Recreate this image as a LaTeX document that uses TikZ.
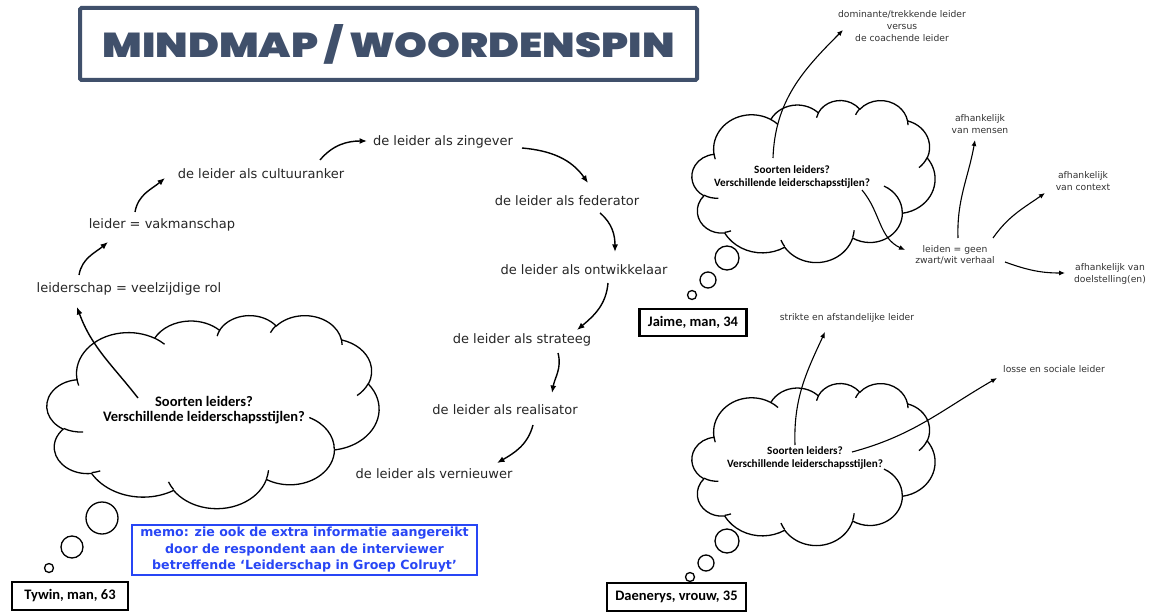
\documentclass[tikz,border=0pt]{standalone}
\usepackage{fontspec}
\usetikzlibrary{arrows.meta}
\setmainfont{DejaVu Sans}
\newfontfamily\calibrifont{Carlito}
\IfFontExistsTF{Poppins Black}{\newfontfamily\titlefont{Poppins Black}}{%
  \IfFontExistsTF{Poppins ExtraBold}{\newfontfamily\titlefont{Poppins ExtraBold}}{%
    \newfontfamily\titlefont{Poppins}[UprightFont=* Bold]}}
\definecolor{slate}{RGB}{64,80,107}
\definecolor{memoblue}{RGB}{40,70,245}

% Elliptic arc given by its radii and the visual start angle / sweep (degrees),
% converted to the parametric angles TikZ expects.
\newcommand\carc[4]{arc[x radius=#1, y radius=#2,
  start angle={atan2(#1*sin(#3),#2*cos(#3))},
  delta angle={mod(atan2(#1*sin(#3+#4),#2*cos(#3+#4))-atan2(#1*sin(#3),#2*cos(#3))+720,360)}]}

% Cloud outline in a 432 x 432 box, y pointing down
\newcommand\cloudoutline{(39.00,143.70)
  \carc{67.53}{91.90}{-190.4875}{123.7805}
  \carc{53.33}{72.67}{-144.1024}{89.9452}
  \carc{43.65}{59.45}{-145.8079}{99.7230}
  \carc{48.57}{65.95}{-130.9861}{117.2417}
  \carc{53.33}{72.73}{-78.7089}{109.0269}
  \carc{67.75}{92.20}{-46.2673}{130.2690}
  \carc{57.85}{78.67}{0.6250}{114.0333}
  \carc{67.52}{92.15}{22.4516}{115.1726}
  \carc{77.20}{105.43}{66.2426}{75.7110}
  \carc{43.60}{59.18}{-274.9421}{146.7356}
  \carc{43.45}{59.45}{-246.8285}{152.5189}
  -- cycle}
% the short inner strokes of the cloud
\newcommand\cloudinner{%
  (46.93,261.77) \carc{43.45}{59.45}{86.742}{26.430}
  (69.28,348.99) \carc{43.60}{59.18}{73.610}{11.447}
  (164.78,390.90) \carc{67.52}{92.15}{137.624}{14.081}
  (288.27,347.51) \carc{67.52}{92.15}{6.453}{15.998}
  (341.29,229.54) \carc{57.85}{78.67}{-70.292}{70.917}
  (417.98,153.54) \carc{53.33}{72.73}{30.318}{27.752}
  (383.24,54.26) \carc{48.57}{65.95}{-13.744}{14.859}
  (290.78,39.52) \carc{48.57}{65.95}{-149.181}{18.195}
  (221.41,47.20) \carc{43.65}{59.45}{-163.494}{17.686}
  (140.00,51.92) \carc{67.53}{91.90}{-66.707}{12.319}
  (41.27,157.89) \carc{67.53}{91.90}{157.654}{11.858}}
% \thoughtcloud{left}{top}{width}{height}
\newcommand\thoughtcloud[4]{%
  \begin{scope}[shift={(#1,-#2)}, xscale=#3/432, yscale=-#4/432]
    \draw[cloudline, fill=white] \cloudoutline;
    \draw[cloudline] \cloudinner;
  \end{scope}}

\begin{document}
\begin{tikzpicture}[x=1pt, y=1pt,
  cloudline/.style={line width=1.3pt, line join=round},
  arr/.style={line width=1.4pt, -{Latex[length=7.5pt,width=6pt]}},
  sarr/.style={line width=1.1pt, -{Latex[length=6pt,width=5pt]}},
  chain/.style={font=\fontsize{13}{15}\selectfont, text=black!85, inner sep=1pt},
  small/.style={font=\fontsize{9.2}{11.8}\selectfont, align=center, text=black!80, inner sep=1pt},
  bigq/.style={font=\calibrifont\bfseries\fontsize{14.5}{15.5}\selectfont, align=center, inner sep=0pt},
  smallq/.style={font=\calibrifont\bfseries\fontsize{11.2}{13}\selectfont, align=center, inner sep=0pt},
  bubble/.style={line width=1.3pt, fill=white},
  tag/.style={draw, line width=2.5pt, inner sep=0pt, font=\calibrifont\bfseries\fontsize{14.5}{16}\selectfont}]

\useasboundingbox[fill=white] (0,0) rectangle (1153,-612);

% title banner
\node[draw=slate, line width=4pt, rounded corners=1.5pt, fill=white, text=slate,
  minimum width=617pt, minimum height=72pt, inner sep=0pt] (title) at (388.5,-44)
  {\resizebox{572pt}{33pt}{\titlefont MINDMAP / WOORDENSPIN}};

% ---------- Tywin ----------
\thoughtcloud{47}{315}{332}{193}
\draw[bubble] (102,-518) circle (16);
\draw[bubble] (72,-547) circle (11);
\draw[bubble] (49,-568) circle (4.5);
\node[bigq] (q1) at (204,-410) {Soorten leiders?\\Verschillende leiderschapsstijlen?};
\node[tag, minimum width=116pt, minimum height=28pt] (tywin) at (70,-596) {Tywin, man, 63};

\node[chain] (veel) at (129,-289) {leiderschap = veelzijdige rol};
\node[chain] (vak) at (162,-225) {leider = vakmanschap};
\node[chain] (cult) at (261,-174) {de leider als cultuuranker};
\node[chain] (zin) at (443,-142) {de leider als zingever};
\node[chain] (fed) at (567,-201) {de leider als federator};
\node[chain] (ont) at (584,-270) {de leider als ontwikkelaar};
\node[chain] (str) at (522,-340) {de leider als strateeg};
\node[chain] (rea) at (505,-410) {de leider als realisator};
\node[chain] (ver) at (434,-474) {de leider als vernieuwer};

\coordinate (q1out) at (138,-398);
\coordinate (veelin) at (77,-307);   \coordinate (veelout) at (79,-275);
\coordinate (vakin) at (108,-242);   \coordinate (vakout) at (135,-212);
\coordinate (cultin) at (165,-178);  \coordinate (cultout) at (320,-160);
\coordinate (zinin) at (367,-141);   \coordinate (zinout) at (522,-148);
\coordinate (fedin) at (588,-183);   \coordinate (fedout) at (600,-213);
\coordinate (ontin) at (615,-252);   \coordinate (ontout) at (608,-283);
\coordinate (strin) at (577,-330);   \coordinate (strout) at (558,-353);
\coordinate (reain) at (552,-393);   \coordinate (reaout) at (533,-425);
\coordinate (verin) at (497,-463);

\draw[arr] (q1out) to[out=128,in=290] (veelin);
\draw[arr] (veelout) to[out=80,in=220] (vakin);
\draw[arr] (vakout) to[out=80,in=220] (cultin);
\draw[arr] (cultout) to[out=50,in=180] (zinin);
\draw[arr] (zinout) to[out=-5,in=125] (fedin);
\draw[arr] (fedout) to[out=-40,in=90] (ontin);
\draw[arr] (ontout) to[out=-95,in=40] (strin);
\draw[arr] (strout) to[out=-75,in=80] (reain);
\draw[arr] (reaout) to[out=-105,in=30] (verin);

\node[draw=memoblue, line width=1.2pt, text=memoblue, align=center, inner sep=0pt,
  font=\bfseries\fontsize{12.6}{16.5}\selectfont, minimum width=345pt, minimum height=50pt]
  (memo) at (304.5,-550)
  {memo: zie ook de extra informatie aangereikt\\door de respondent aan de interviewer\\betreffende ‘Leiderschap in Groep Colruyt’};

% ---------- Jaime ----------
\thoughtcloud{692}{100}{243}{162}
\draw[bubble] (727,-258) circle (12);
\draw[bubble] (708,-280) circle (8);
\draw[bubble] (692,-295) circle (4.5);
\node[smallq] (q2) at (792,-177) {Soorten leiders?\\Verschillende leiderschapsstijlen?};
\node[tag, minimum width=107pt, minimum height=27pt] (jaime) at (693,-322.5) {Jaime, man, 34};

\node[small] (dom) at (902,-26) {dominante/trekkende leider\\versus\\de coachende leider};
\node[small] (leiden) at (955,-255) {leiden = geen\\zwart/wit verhaal};
\node[small] (mens) at (980,-124) {afhankelijk\\van mensen};
\node[small] (cont) at (1083,-181) {afhankelijk\\van context};
\node[small] (doel) at (1110,-274) {afhankelijk van\\doelstelling(en)};

\coordinate (q2up) at (773,-158);   \coordinate (domin) at (843,-30);
\coordinate (q2right) at (862,-190); \coordinate (leidenin) at (905,-250);
\coordinate (leidenup) at (958,-238); \coordinate (mensin) at (975,-140);
\coordinate (leidenur) at (993,-238); \coordinate (contin) at (1045,-193);
\coordinate (leidenr) at (1005,-262); \coordinate (doelin) at (1065,-273);

\draw[sarr] (q2up) to[out=88,in=225] (domin);
\draw[sarr] (q2right) to[out=-50,in=155] (leidenin);
\draw[sarr] (leidenup) to[out=92,in=260] (mensin);
\draw[sarr] (leidenur) to[out=55,in=215] (contin);
\draw[sarr] (leidenr) to[out=-20,in=180] (doelin);

% ---------- Daenerys ----------
\thoughtcloud{692}{383}{243}{162}
\draw[bubble] (727,-541) circle (12);
\draw[bubble] (706,-563) circle (8);
\draw[bubble] (690,-577) circle (4.5);
\node[smallq] (q3) at (805,-458) {Soorten leiders?\\Verschillende leiderschapsstijlen?};
\node[tag, minimum width=139pt, minimum height=28pt] (dae) at (676.5,-597) {Daenerys, vrouw, 35};

\node[small] (strikt) at (847,-318) {strikte en afstandelijke leider};
\node[small] (losse) at (1054,-369) {losse en sociale leider};

\coordinate (q3up) at (795,-445);    \coordinate (striktin) at (825,-332);
\coordinate (q3right) at (852,-452); \coordinate (lossein) at (997,-378);

\draw[sarr] (q3up) to[out=92,in=245] (striktin);
\draw[sarr] (q3right) to[out=15,in=210] (lossein);
\end{tikzpicture}
\end{document}
